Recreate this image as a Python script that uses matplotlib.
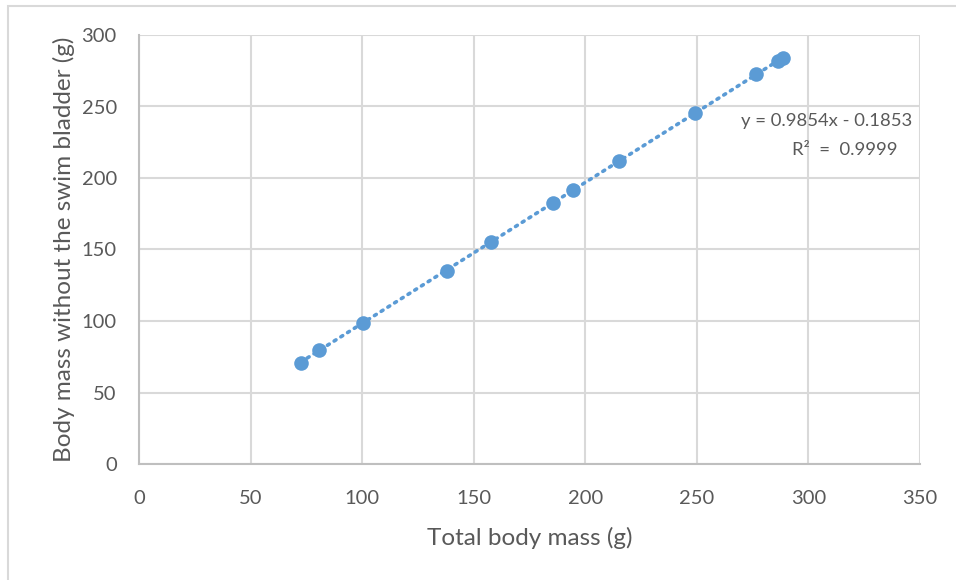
import matplotlib
matplotlib.use("Agg")
import matplotlib.pyplot as plt
from matplotlib.patches import Rectangle
import numpy as np

# Fish body mass measurements (g)
total_mass = [72.4, 80.8, 100.4, 137.9, 157.7, 185.7, 194.6, 215.1, 249.2, 276.5, 286.5, 288.5]
mass_no_bladder = [70.9, 79.6, 98.6, 135.3, 155.3, 182.8, 191.5, 211.6, 245.3, 272.6, 282.0, 284.0]

# Linear trendline coefficients
slope = 0.9854
intercept = -0.1853
r_squared = 0.9999

x_ticks = [0, 50, 100, 150, 200, 250, 300, 350]
y_ticks = [0, 50, 100, 150, 200, 250, 300]

plt.rcParams['font.family'] = ['Lato', 'DejaVu Sans']

W, H = 956, 580
fig = plt.figure(figsize=(W / 100, H / 100), dpi=100)
fig.patch.set_facecolor('white')

# chart area border (runs off the right and bottom edges)
fig.add_artist(Rectangle((8 / W, -0.1), 1.2, 1.1 - 6 / H, transform=fig.transFigure,
                         fill=False, edgecolor='#D9D9D9', linewidth=1.5))

left, right, top, bottom = 139, 920, 35, 464
ax = fig.add_axes([left / W, 1 - bottom / H, (right - left) / W, (bottom - top) / H])

blue = '#5B9BD5'
text_col = '#595959'
grid_col = '#D9D9D9'

# trendline
xs = np.array([min(total_mass), max(total_mass)])
ax.plot(xs, slope * xs + intercept, linestyle=(0, (0.6, 1.6)), color=blue,
        linewidth=2.6, dash_capstyle='round', zorder=2)
ax.plot(total_mass, mass_no_bladder, 'o', color=blue, markersize=10.5,
        markeredgewidth=0, zorder=3)

ax.set_xlim(x_ticks[0], x_ticks[-1])
ax.set_ylim(y_ticks[0], y_ticks[-1])
ax.set_xticks(x_ticks)
ax.set_yticks(y_ticks)
ax.grid(True, color=grid_col, linewidth=1.5)
ax.set_axisbelow(True)
for s in ['top', 'right']:
    ax.spines[s].set_visible(False)
for s in ['left', 'bottom']:
    ax.spines[s].set_color('#BFBFBF')
    ax.spines[s].set_linewidth(1.5)
ax.tick_params(length=0, labelsize=14.5, colors=text_col)
ax.tick_params(axis='x', pad=19)
ax.tick_params(axis='y', pad=16)

ax.set_xlabel('Total body mass (g)', fontsize=17.5, color=text_col, labelpad=14)
ax.set_ylabel('Body mass without the swim bladder (g)', fontsize=17.5, color=text_col, labelpad=5)

eq = f"y = {slope:.4f}x - {abs(intercept):.4f}"
ax.text(912 / W, 1 - 121 / H, eq, transform=fig.transFigure, ha='right', va='center',
        fontsize=13.3, color=text_col)
ax.text(897 / W, 1 - 150 / H, f"R²  =  {r_squared:.4f}", transform=fig.transFigure,
        ha='right', va='center', fontsize=13.3, color=text_col)

fig.savefig('out.png', dpi=100, facecolor='white')
